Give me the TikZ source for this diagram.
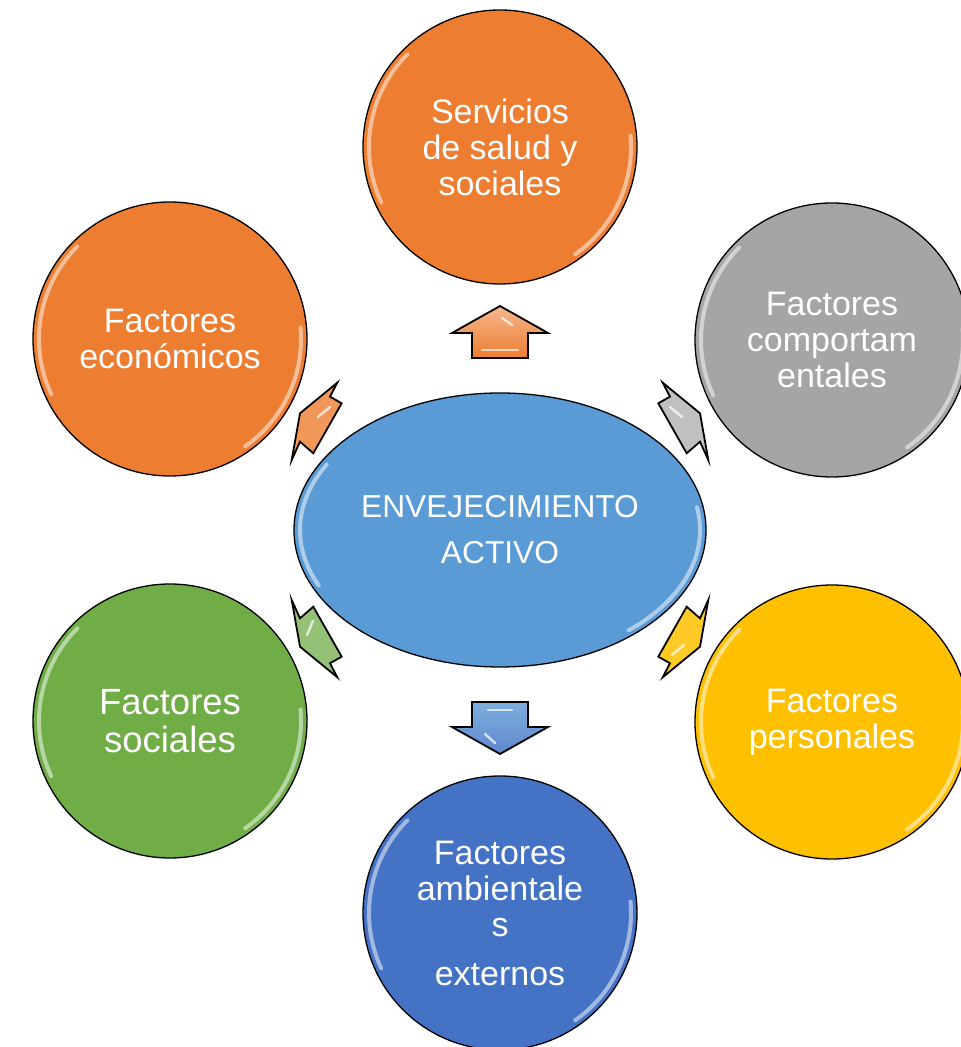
\documentclass[tikz,border=0pt]{standalone}
\usepackage{fontspec}
\setmainfont{Liberation Sans}
\usetikzlibrary{shapes.geometric}
\definecolor{naranja}{HTML}{ED7D31}
\definecolor{gris}{HTML}{A5A5A5}
\definecolor{amarillo}{HTML}{FFC000}
\definecolor{verde}{HTML}{70AD47}
\definecolor{azul}{HTML}{4472C4}
\definecolor{celeste}{HTML}{5B9BD5}
\tikzset{
  factor/.style={circle, draw=black, line width=1.3pt, minimum size=274pt, inner sep=0pt,
    text=white, align=center, font=\fontsize{34}{36}\selectfont},
  nucleo/.style={ellipse, draw=black, line width=1.3pt, fill=celeste, minimum width=412pt,
    minimum height=274pt, inner sep=0pt, text=white, align=center, font=\fontsize{31.7}{46}\selectfont},
  flecha/.style={draw=black, line width=1.8pt, line join=miter},
  brillo/.style={white, line width=4pt, opacity=0.5, line cap=round},
  destello/.style={white, line width=2.5pt, opacity=0.7, line cap=round},
}
\def\brillo(#1){\draw[brillo] ([shift={(135:131)}]#1.center) arc (135:205:131);
  \draw[brillo] ([shift={(-55:131)}]#1.center) arc (-55:5:131);}

\begin{document}
\begin{tikzpicture}[x=1pt,y=1pt]
			\useasboundingbox (0,0) rectangle (961,1047);
			%%%%% START %%%%%
			
			\node[factor, fill=naranja] (servicios) at (500,900) {Servicios\\de salud y\\sociales};
			\node[factor, fill=naranja] (economicos) at (170,708) {Factores\\económicos};
			\node[factor, fill=gris] (comportamentales) at (832,707) {Factores\\comportam\\entales};
			\node[factor, fill=verde, font=\fontsize{36.5}{38}\selectfont] (sociales) at (170,326) {Factores\\sociales};
			\node[factor, fill=amarillo] (personales) at (832,325) {Factores\\personales};
			\node[factor, fill=azul] (ambientales) at (500,134) {Factores\\ambientale\\s\\[13pt]externos};
			
			\brillo(servicios)
			\brillo(economicos)
			\brillo(comportamentales)
			\brillo(sociales)
			\brillo(personales)
			\brillo(ambientales)
			
			\node[nucleo] (envejecimiento) at (500,517) {ENVEJECIMIENTO\\ACTIVO};
			\draw[brillo] ([shift={(150:200 and 131)}]envejecimiento.center) arc[start angle=150, end angle=205, x radius=200, y radius=131];
			\draw[brillo] ([shift={(-50:200 and 131)}]envejecimiento.center) arc[start angle=-50, end angle=10, x radius=200, y radius=131];
			
			% flechas arriba y abajo
			\draw[flecha, top color=naranja!55!white, bottom color=naranja] (500,741) -- (548,714) -- (528,714) -- (528,689) -- (472,689) -- (472,714) -- (452,714) -- cycle;
			\draw[destello] (502,729) -- (512,722);
			\draw[destello] (482,697) -- (518,697);
			\draw[flecha, top color=celeste!80!white, bottom color=azul!85!white] (472,345) -- (528,345) -- (528,320) -- (548,320) -- (500,293) -- (452,320) -- (472,320) -- cycle;
			\draw[destello] (488,337) -- (512,337);
			\draw[destello] (485,313) -- (495,304);
			
			% flechas diagonales
			\draw[flecha, fill=naranja!80!white] (300,633.7) -- (337.3,664.3) -- (330,650.3) -- (341.7,643.7) -- (313.3,593.7) -- (300,605.3) -- (291.7,587) -- cycle;
			\draw[destello] (318,630) -- (330,640);
			\draw[flecha, fill=gris!70!white] (700,633.7) -- (662.7,664.3) -- (670,650.3) -- (658.3,643.7) -- (686.7,593.7) -- (700,605.3) -- (708.3,587) -- cycle;
			\draw[destello] (682,630) -- (670,640);
			\draw[flecha, fill=verde!75!white] (300,400.3) -- (337.3,369.7) -- (330,383.7) -- (341.7,390.3) -- (313.3,440.3) -- (300,428.7) -- (291.7,447) -- cycle;
			\draw[destello] (307,412) -- (313,426);
			\draw[flecha, fill=amarillo!85!white] (700,400.3) -- (662.7,369.7) -- (670,383.7) -- (658.3,390.3) -- (686.7,440.3) -- (700,428.7) -- (708.3,447) -- cycle;
			\draw[destello] (672,392) -- (684,402);
			
			%%%%% END %%%%%
\end{tikzpicture}
\end{document}
